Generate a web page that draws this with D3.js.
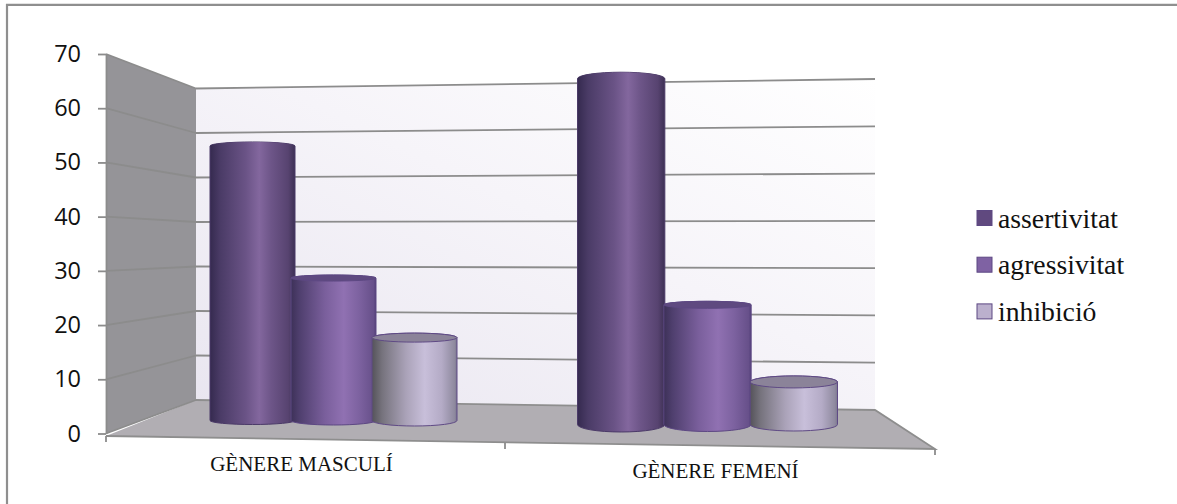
<!DOCTYPE html>
<html>
<head>
<meta charset="utf-8">
<script src="https://cdn.jsdelivr.net/npm/d3@7/dist/d3.min.js"></script>
<style>
  html, body { margin: 0; padding: 0; background: #fff; }
  svg { display: block; }
</style>
</head>
<body>
<svg id="chart" width="1177" height="504"></svg>
<script>
// Chart data
const categories = ["GÈNERE MASCULÍ", "GÈNERE FEMENÍ"];
const seriesNames = ["assertivitat", "agressivitat", "inhibició"];
const assertivitat = [53, 65];
const agressivitat = [27.5, 22.5];
const inhibicio = [16, 8];
const yTicks = [0, 10, 20, 30, 40, 50, 60, 70];
const seriesValues = [assertivitat, agressivitat, inhibicio];

const svg = d3.select("#chart");
const defs = svg.append("defs");

// Projected value scales: front edge of the side wall and both back-wall edges
const yFront = d3.scaleLinear().domain([0, 70]).range([433.5, 54]);
const yBackLeft = d3.scaleLinear().domain([0, 70]).range([400, 88.5]);
const yBackRight = d3.scaleLinear().domain([0, 70]).range([410, 79]);
const xFront = 106, xBackLeft = 196, xBackRight = 875;

// Bars stand between the back wall and the front edge, so each group has its own scale
const groupY = [
  d3.scaleLinear().domain([0, 70]).range([420.5, 420.5 - 70 * 5.18]),
  d3.scaleLinear().domain([0, 70]).range([424.5, 424.5 - 70 * 5.32])
];
const groupX = [
  d3.scaleBand().domain(seriesNames).range([212, 455]),
  d3.scaleBand().domain(seriesNames).range([578, 837])
];
const barExtra = [4, 1];
// Ellipse flattening of the lids and bases, by group and series
const lidRy = [[4, 3, 4.5], [6.5, 3.5, 6]];
const baseRy = [[4, 4.5, 5.5], [7.5, 7, 6.5]];

// Frame: only the top and left rules are visible
const frame = svg.append("g").attr("stroke", "#8f8f8f").attr("stroke-width", 2.2);
frame.append("line").attr("x1", 6).attr("x2", 1177).attr("y1", 4.8).attr("y2", 4.8);
frame.append("line").attr("x1", 7).attr("x2", 7).attr("y1", 4).attr("y2", 504);

// Gradients
const wallGrad = defs.append("linearGradient").attr("id", "wall")
  .attr("x1", 0).attr("y1", 1).attr("x2", 1).attr("y2", 0);
wallGrad.append("stop").attr("offset", 0).attr("stop-color", "#e9e6f0");
wallGrad.append("stop").attr("offset", 0.55).attr("stop-color", "#f6f4f9");
wallGrad.append("stop").attr("offset", 1).attr("stop-color", "#ffffff");

const bodyStops = [
  [[0, "#352a4f"], [0.12, "#4a3b66"], [0.42, "#6a5386"], [0.58, "#83679e"], [0.72, "#6d5588"], [0.92, "#574370"], [1, "#3d3054"]],
  [[0, "#3d3158"], [0.1, "#4f3f6e"], [0.4, "#7a5f9c"], [0.62, "#9071b2"], [0.8, "#7d62a0"], [0.97, "#67508a"], [1, "#54407a"]],
  [[0, "#55535a"], [0.12, "#76737d"], [0.4, "#aaa2b8"], [0.62, "#c8bfda"], [0.82, "#b4abc6"], [0.97, "#8f8a9f"], [1, "#7a7590"]]
];
const topFill = ["url(#body0)", "#5f4a80", "#8b8399"];
const swatchFill = ["#60497f", "#7f62a3", "#bbb0cd"];
const outline = ["#4b3a68", "#5d4883", "#5f4a85"];

seriesNames.forEach((_, i) => {
  const g = defs.append("linearGradient").attr("id", "body" + i);
  bodyStops[i].forEach(s => g.append("stop").attr("offset", s[0]).attr("stop-color", s[1]));
});

// Side wall, back wall and floor
const gridColor = "#8c8c8c";
const pts = a => a.map(p => p.join(",")).join(" ");

svg.append("polygon")
  .attr("points", pts([[xBackLeft, yBackLeft(0)], [xBackRight, yBackRight(0)], [935, 449], [xFront, 436]]))
  .attr("fill", "#b1aeb3").attr("stroke", "none");
svg.append("polygon")
  .attr("points", pts([[xBackLeft, yBackLeft(70)], [xBackRight, yBackRight(70)], [xBackRight, yBackRight(0)], [xBackLeft, yBackLeft(0)]]))
  .attr("fill", "url(#wall)");
svg.append("polygon")
  .attr("points", pts([[xFront, yFront(70)], [xBackLeft, yBackLeft(70)], [xBackLeft, yBackLeft(0)], [xFront, yFront(0)]]))
  .attr("fill", "#959498");

// Floor outline
svg.append("path")
  .attr("d", `M${xBackLeft},${yBackLeft(0)}L${xBackRight},${yBackRight(0)}L935,449L${xFront},436`)
  .attr("fill", "none").attr("stroke", "#8e8e8e").attr("stroke-width", 1.8);

// Gridlines across both walls
const grid = svg.append("g").attr("fill", "none").attr("stroke", gridColor).attr("stroke-width", 1.8);
grid.selectAll("path.side").data(yTicks).join("path").attr("class", "side")
  .attr("d", v => `M${xFront},${yFront(v)}L${xBackLeft},${yBackLeft(v)}`);
grid.selectAll("path.back").data(yTicks.filter(v => v > 0)).join("path").attr("class", "back")
  .attr("d", v => `M${xBackLeft},${yBackLeft(v)}L${xBackRight},${yBackRight(v)}`);

// Value axis on the front edge
const axis = svg.append("g").attr("transform", `translate(${xFront},0)`)
  .call(d3.axisLeft(yFront).tickValues(yTicks).tickSize(8).tickPadding(17).tickSizeOuter(0));
axis.selectAll("path, line").attr("stroke", gridColor).attr("stroke-width", 1.8);
axis.selectAll("text")
  .attr("font-family", "'Open Sans', sans-serif").attr("font-size", 23.5).attr("fill", "#111");

// Category axis ticks under the floor's front edge
const catTicks = [[106, 436], [505, 443], [935, 449]];
svg.append("g").selectAll("line").data(catTicks).join("line")
  .attr("x1", d => d[0]).attr("x2", d => d[0])
  .attr("y1", d => d[1]).attr("y2", d => d[1] + 6)
  .attr("stroke", gridColor).attr("stroke-width", 1.8);

// Cylinders, drawn left to right so that each overlaps the previous one
const cylinders = svg.append("g");
categories.forEach((cat, c) => {
  seriesNames.forEach((name, s) => {
    const value = seriesValues[s][c];
    const y = groupY[c];
    const cx = groupX[c](name) + groupX[c].bandwidth() / 2;
    const rx = (groupX[c].bandwidth() + barExtra[c]) / 2;
    const top = lidRy[c][s], bottom = baseRy[c][s];
    const g = cylinders.append("g");
    g.append("path")
      .attr("d", `M${cx - rx},${y(value)}L${cx - rx},${y(0)}A${rx},${bottom} 0 0 0 ${cx + rx},${y(0)}L${cx + rx},${y(value)}A${rx},${top} 0 0 0 ${cx - rx},${y(value)}Z`)
      .attr("fill", `url(#body${s})`).attr("stroke", outline[s]).attr("stroke-width", 1);
    // The darkest series has a lid that blends into its body, with no rim in front
    g.append("ellipse")
      .attr("cx", cx).attr("cy", y(value)).attr("rx", rx).attr("ry", top)
      .attr("fill", topFill[s])
      .attr("stroke", s === 0 ? "none" : outline[s]).attr("stroke-width", 1);
  });
});

// Category labels
const labelPos = [[301.5, 471], [715.5, 478]];
svg.append("g").selectAll("text").data(categories).join("text")
  .attr("x", (d, i) => labelPos[i][0]).attr("y", (d, i) => labelPos[i][1])
  .attr("text-anchor", "middle")
  .attr("font-family", "'Liberation Serif', serif").attr("font-size", 21)
  .attr("fill", "#111").text(d => d);

// Legend
const legend = svg.append("g").selectAll("g").data(seriesNames).join("g")
  .attr("transform", (d, i) => `translate(977,${210.5 + i * 46.7})`);
legend.append("rect")
  .attr("width", 15).attr("height", 15)
  .attr("fill", (d, i) => swatchFill[i]).attr("stroke", outline[1]).attr("stroke-width", 1);
legend.append("text")
  .attr("x", 21).attr("y", 17)
  .attr("font-family", "'Liberation Serif', serif").attr("font-size", 27.7)
  .attr("fill", "#111").text(d => d);
</script>
</body>
</html>
